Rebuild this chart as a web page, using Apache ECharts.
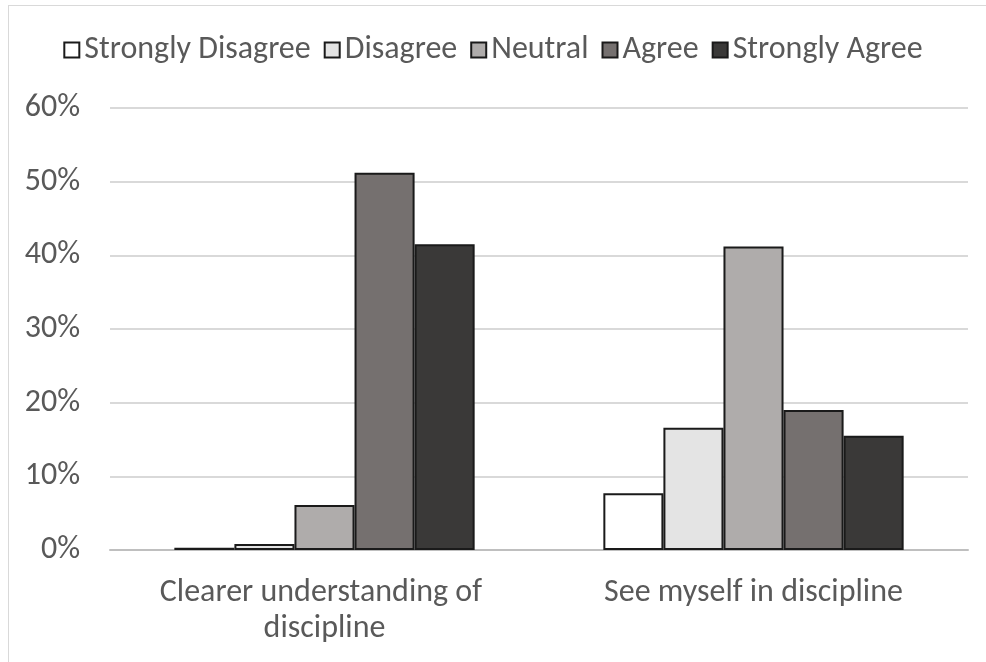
<!DOCTYPE html>
<html>
<head>
<meta charset="utf-8">
<script src="https://cdn.jsdelivr.net/npm/echarts@6/dist/echarts.min.js"></script>
<style>
  html, body { margin: 0; padding: 0; background: #fff; }
  #frame { position: absolute; left: 8px; top: 5px; width: 990px; height: 670px; border: 1px solid #d9d9d9; box-sizing: border-box; }
  #chart { width: 986px; height: 662px; position: absolute; left: 0; top: 0; }
</style>
</head>
<body>
<div id="frame"></div>
<div id="chart"></div>
<script>
var categories = ['Clearer understanding of discipline', 'See myself in discipline'];
var seriesNames = ['Strongly Disagree', 'Disagree', 'Neutral', 'Agree', 'Strongly Agree'];
var seriesColors = ['#ffffff', '#e4e4e4', '#afacab', '#75706f', '#3a3938'];
var stronglyDisagree = [0.3, 7.7];
var disagree = [0.8, 16.6];
var neutral = [6.1, 41.2];
var agree = [51.2, 19.0];
var stronglyAgree = [41.5, 15.5];
var values = [stronglyDisagree, disagree, neutral, agree, stronglyAgree];

var font = 'Carlito, "Open Sans", sans-serif';

var chart = echarts.init(document.getElementById('chart'));

var series = seriesNames.map(function(name, i) {
    return {
        name: name,
        type: 'bar',
        data: values[i],
        barGap: '0%',
        barCategoryGap: '30%',
        itemStyle: {
            color: seriesColors[i],
            borderColor: '#1a1a1a',
            borderWidth: 2
        }
    };
});

chart.setOption({
    animation: false,
    legend: {
        top: 29,
        left: 'center',
        itemWidth: 15,
        itemHeight: 15,
        itemGap: 13,
        icon: 'rect',
        textStyle: { fontFamily: font, fontSize: 32, color: '#595959', padding: [0, 0, 0, 0] },
        itemStyle: { borderColor: '#1a1a1a', borderWidth: 2 }
    },
    grid: { left: 110, right: 18, top: 108, bottom: 112 },
    xAxis: {
        type: 'category',
        data: categories,
        axisLine: { lineStyle: { color: '#bfbfbf', width: 2 } },
        axisTick: { show: false },
        axisLabel: {
            interval: 0,
            fontFamily: font, fontSize: 32, color: '#595959',
            margin: 25, width: 380, overflow: 'break', lineHeight: 36
        }
    },
    yAxis: {
        type: 'value',
        min: 0,
        max: 60,
        interval: 10,
        axisLabel: {
            fontFamily: font, fontSize: 32, color: '#595959', margin: 30,
            formatter: '{value}%'
        },
        splitLine: { lineStyle: { color: '#d9d9d9', width: 2 } }
    },
    series: series
});
</script>
</body>
</html>
